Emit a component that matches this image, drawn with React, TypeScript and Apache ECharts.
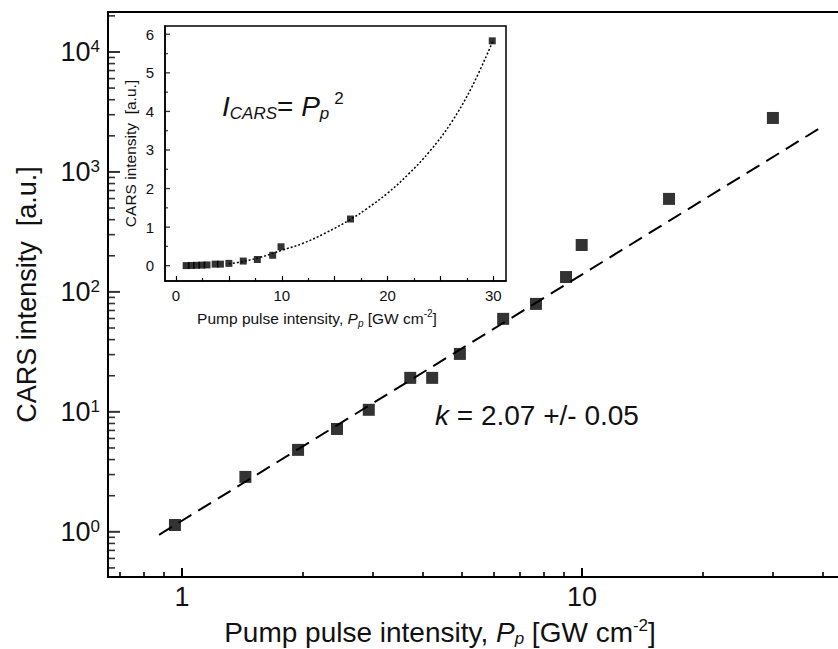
import React, { useEffect, useRef } from "react";
import * as echarts from "echarts";

// ---- data ----
const mainX = [0.96, 1.44, 1.95, 2.44, 2.93, 3.72, 4.22, 4.95, 6.35, 7.67, 9.12, 9.98, 16.5, 30.0];
const mainY = [1.14, 2.87, 4.82, 7.2, 10.4, 19.2, 19.2, 30.4, 59.6, 79.4, 133, 246, 596, 2818];
const fitX = [0.876, 39.4];
const fitY = [0.944, 2330];

const insetX = [0.96, 1.44, 1.95, 2.44, 2.93, 3.7, 4.2, 5.0, 6.36, 7.69, 9.14, 9.93, 16.5, 29.9];
const insetY = [0.002, 0.006, 0.01, 0.015, 0.02, 0.04, 0.04, 0.06, 0.12, 0.16, 0.27, 0.49, 1.21, 5.83];
const insetFitX = [5, 6, 8, 10, 12, 14, 16.5, 18, 20, 22, 24, 26, 28, 30];
const insetFitY = [0.05, 0.09, 0.22, 0.4, 0.58, 0.83, 1.2, 1.47, 1.88, 2.38, 2.97, 3.7, 4.65, 5.85];

// ---- ticks ----
const mainXMajor = [1, 10];
const mainXMinor = [0.7, 0.8, 0.9, 2, 3, 4, 5, 6, 7, 8, 9, 20, 30, 40];
const mainYMajor = [1, 10, 100, 1000, 10000];
const mainYMinor = [
  0.5, 0.6, 0.7, 0.8, 0.9,
  2, 3, 4, 5, 6, 7, 8, 9,
  20, 30, 40, 50, 60, 70, 80, 90,
  200, 300, 400, 500, 600, 700, 800, 900,
  2000, 3000, 4000, 5000, 6000, 7000, 8000, 9000,
  20000,
];
const insetXLabels = [0, 10, 20, 30];
const insetXMajorTicks = [0, 5, 10, 15, 20, 25, 30];
const insetXMinorTicks = [2.5, 7.5, 12.5, 17.5, 22.5, 27.5];
const insetYLabels = [0, 1, 2, 3, 4, 5, 6];
const insetYMinorTicks = [0.5, 1.5, 2.5, 3.5, 4.5, 5.5];

const FONT = "'Liberation Sans', Arial, sans-serif";
const INK = "#111";

export default function App() {
  const ref = useRef<HTMLDivElement>(null);

  useEffect(() => {
    if (!ref.current) return;
    const chart = echarts.init(ref.current, undefined, { renderer: "svg" });

    const XMIN = 0.653, XMAX = 44.4, YMIN = 0.42, YMAX = 21544;
    const IXMIN = -1.04, IXMAX = 31.2, IYMIN = -0.397, IYMAX = 6.215;
    const lg = (v: number) => Math.log10(v);

    const hiddenLabel = { show: false };
    const noSplit = { show: false };
    const lineBlack = (w: number) => ({ color: "#000", width: w });

    // tick-only companion x axes drawn in log10 space under the log axis
    const tickAxis = (gridIndex: number, position: string, min: number, max: number, values: number[], length: number, w: number) => ({
      type: "value", gridIndex, position, min, max,
      axisLine: { show: false, onZero: false },
      axisTick: { show: true, inside: true, length, customValues: values, lineStyle: lineBlack(w) },
      axisLabel: hiddenLabel, splitLine: noSplit,
    });

    // y-axis tick marks placed through the axes' own scales (short horizontal bars on the axis line)
    const yTicks = (xi: number, yi: number, x0: number, values: number[], len: number, w: number) => ({
      type: "scatter", xAxisIndex: xi, yAxisIndex: yi, silent: true, clip: false, z: 5,
      data: values.map((v) => [x0, v]),
      symbol: "rect", symbolSize: [len, w], symbolOffset: [len / 2, 0],
      itemStyle: { color: "#000" },
    });

    const titleRich = (big: number, small: number, lh: number) => ({
      t: { fontSize: big, fontFamily: FONT, color: INK, lineHeight: lh, verticalAlign: "middle" },
      i: { fontSize: big, fontFamily: FONT, color: INK, lineHeight: lh, verticalAlign: "middle", fontStyle: "italic" },
      sub: { fontSize: small, fontFamily: FONT, color: INK, lineHeight: small, verticalAlign: "bottom", fontStyle: "italic" },
      sup: { fontSize: small, fontFamily: FONT, color: INK, lineHeight: small, verticalAlign: "top" },
    });
    const xTitle = "{t|Pump pulse intensity, }{i|P}{sub|p}{t| [GW cm}{sup|-2}{t|]}";

    const option: any = {
      animation: false,
      backgroundColor: "#fff",
      tooltip: { show: false },
      grid: [
        { left: 108, top: 12, right: -3, bottom: 72, show: true, borderColor: "#000", borderWidth: 2, backgroundColor: "transparent", containLabel: false, outerBoundsMode: "none" },
        { left: 165, top: 26, right: 332, bottom: 368, show: true, borderColor: "#000", borderWidth: 1.5, backgroundColor: "#fff", containLabel: false, outerBoundsMode: "none" },
      ],
      xAxis: [
        {
          type: "log", gridIndex: 0, position: "bottom", min: XMIN, max: XMAX,
          axisLine: { show: true, onZero: false, lineStyle: lineBlack(2) },
          axisTick: { show: false },
          axisLabel: { show: true, customValues: mainXMajor, fontSize: 27, fontFamily: FONT, color: INK, margin: 6 },
          splitLine: noSplit,
          name: xTitle,
          nameLocation: "middle",
          nameGap: 40,
          nameTextStyle: { padding: [0, 69, 0, 0], rich: titleRich(28, 17, 30) },
        },
        tickAxis(0, "bottom", lg(XMIN), lg(XMAX), mainXMinor.map(lg), 5, 1.6),
        tickAxis(0, "bottom", lg(XMIN), lg(XMAX), mainXMajor.map(lg), 9, 2),
        {
          type: "value", gridIndex: 1, position: "bottom", min: IXMIN, max: IXMAX,
          axisLine: { show: true, onZero: false, lineStyle: lineBlack(1.5) },
          axisTick: { show: true, inside: true, length: 5, customValues: insetXMajorTicks, lineStyle: lineBlack(1.2) },
          axisLabel: { show: true, customValues: insetXLabels, fontSize: 15, fontFamily: FONT, color: INK, margin: 7 },
          splitLine: noSplit,
          name: xTitle,
          nameLocation: "middle",
          nameGap: 27,
          nameTextStyle: { padding: [0, 37, 0, 0], rich: titleRich(15.5, 10, 20) },
        },
        tickAxis(1, "bottom", IXMIN, IXMAX, insetXMinorTicks, 3, 1.2),
      ],
      yAxis: [
        {
          type: "log", gridIndex: 0, position: "left", min: YMIN, max: YMAX,
          axisLine: { show: true, onZero: false, lineStyle: lineBlack(2) },
          axisTick: { show: false },
          axisLabel: {
            show: true, customValues: mainYMajor, margin: 8,
            formatter: (v: number) => `{b|10}{s|${Math.round(Math.log10(v))}}`,
            rich: {
              b: { fontSize: 27, fontFamily: FONT, color: INK, lineHeight: 28, verticalAlign: "bottom" },
              s: { fontSize: 17, fontFamily: FONT, color: INK, lineHeight: 17, verticalAlign: "top" },
            },
          },
          splitLine: noSplit,
          name: "CARS intensity  [a.u.]",
          nameLocation: "middle",
          nameGap: 68,
          nameTextStyle: { fontSize: 27, fontFamily: FONT, color: INK },
        },
        {
          type: "value", gridIndex: 1, position: "left", min: IYMIN, max: IYMAX,
          axisLine: { show: true, onZero: false, lineStyle: lineBlack(1.5) },
          axisTick: { show: false },
          axisLabel: { show: true, customValues: insetYLabels, fontSize: 15, fontFamily: FONT, color: INK, margin: 11 },
          splitLine: noSplit,
          name: "CARS intensity  [a.u.]",
          nameLocation: "middle",
          nameGap: 27,
          nameTextStyle: { fontSize: 15.5, fontFamily: FONT, color: INK },
        },
      ],
      series: [
        yTicks(0, 0, XMIN, mainYMinor, 7, 1.6),
        yTicks(0, 0, XMIN, mainYMajor, 12, 2),
        yTicks(3, 1, IXMIN, insetYLabels, 5, 1.3),
        yTicks(3, 1, IXMIN, insetYMinorTicks, 3, 1.2),
        {
          type: "line", xAxisIndex: 0, yAxisIndex: 0,
          data: fitX.map((x, i) => [x, fitY[i]]),
          symbol: "none", lineStyle: { color: "#000", width: 2, type: [15, 8] }, z: 2,
        },
        {
          type: "scatter", xAxisIndex: 0, yAxisIndex: 0,
          data: mainX.map((x, i) => [x, mainY[i]]),
          symbol: "rect", symbolSize: 12, itemStyle: { color: "#000" }, z: 3,
        },
        {
          type: "line", xAxisIndex: 3, yAxisIndex: 1,
          data: insetFitX.map((x, i) => [x, insetFitY[i]]),
          smooth: 0.4, symbol: "none", lineStyle: { color: "#000", width: 1.5, type: [2, 2] }, z: 2,
        },
        {
          type: "scatter", xAxisIndex: 3, yAxisIndex: 1,
          data: insetX.map((x, i) => [x, insetY[i]]),
          symbol: "rect", symbolSize: 7, itemStyle: { color: "#000" }, z: 3,
        },
      ],
      graphic: [
        {
          type: "text", left: 222, top: 90, z: 10,
          style: {
            text: "{i|I}{sub|CARS}{t|= }{i|P}{sub|p}{sup|2}",
            rich: {
              i: { fontSize: 28, fontFamily: FONT, fill: INK, fontStyle: "italic", lineHeight: 32, verticalAlign: "middle" },
              t: { fontSize: 28, fontFamily: FONT, fill: INK, lineHeight: 32, verticalAlign: "middle" },
              sub: { fontSize: 17, fontFamily: FONT, fill: INK, fontStyle: "italic", lineHeight: 17, verticalAlign: "bottom" },
              sup: { fontSize: 17, fontFamily: FONT, fill: INK, lineHeight: 17, verticalAlign: "top", padding: [0, 0, 0, 5] },
            },
          },
        },
        {
          type: "text", left: 435, top: 401, z: 10,
          style: {
            text: "{i|k}{t| = 2.07 +/- 0.05}",
            rich: {
              i: { fontSize: 28, fontFamily: FONT, fill: INK, fontStyle: "italic" },
              t: { fontSize: 28, fontFamily: FONT, fill: INK },
            },
          },
        },
      ],
    };

    chart.setOption(option);
    return () => chart.dispose();
  }, []);

  return (
    <div
      ref={ref}
      style={{ position: "absolute", left: 0, top: 0, width: 838, height: 649, background: "#fff" }}
    />
  );
}
